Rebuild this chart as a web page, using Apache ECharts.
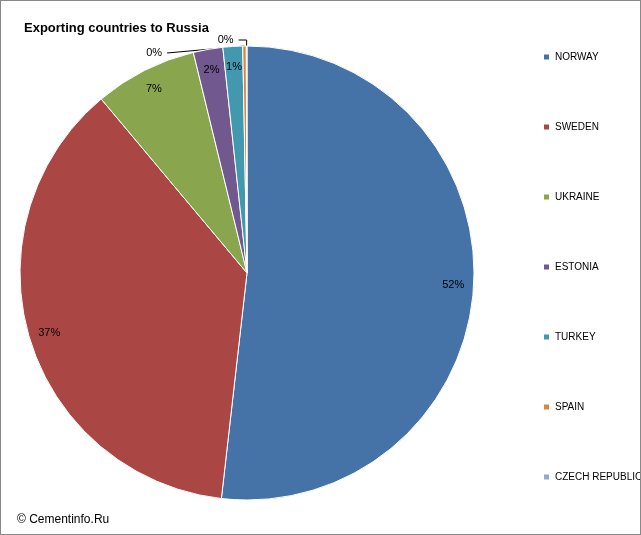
<!DOCTYPE html>
<html>
<head>
<meta charset="utf-8">
<script src="https://cdn.jsdelivr.net/npm/echarts@6/dist/echarts.min.js"></script>
<style>
  html, body { margin: 0; padding: 0; background: #fff; }
  #chart { width: 639px; height: 533px; border: 1px solid #888; }
</style>
</head>
<body>
<div id="chart"></div>
<script>
var countries = ['NORWAY', 'SWEDEN', 'UKRAINE', 'ESTONIA', 'TURKEY', 'SPAIN', 'CZECH REPUBLIC'];
var shares = [51.8, 37.1, 7.3, 2.1, 1.4, 0.25, 0.05];
var colors = ['#4572A7', '#AA4643', '#89A54E', '#71588F', '#4198AF', '#DB843D', '#93A9CF'];

var pieData = [];
var ringData = [];
for (var i = 0; i < countries.length; i++) {
    var inner = i < 5;
    pieData.push({
        name: countries[i],
        value: shares[i],
        label: { show: !inner },
        labelLine: { show: !inner }
    });
    ringData.push({
        name: countries[i],
        value: shares[i],
        label: { show: inner }
    });
}

var chart = echarts.init(document.getElementById('chart'));
chart.setOption({
    color: colors,
    animation: false,
    title: {
        text: 'Exporting countries to Russia',
        left: 18, top: 16,
        textStyle: { fontFamily: 'Liberation Sans', fontSize: 13, fontWeight: 'bold', color: '#000' }
    },
    graphic: [{
        type: 'text', left: 16, top: 513,
        style: { text: '© Cementinfo.Ru', font: '12px "Liberation Sans"', fill: '#000' }
    }],
    legend: {
        orient: 'vertical',
        left: 536, top: 46,
        itemWidth: 7, itemHeight: 7,
        itemGap: 60,
        icon: 'rect',
        textStyle: { fontFamily: 'Liberation Sans', fontSize: 10, color: '#000' },
        data: countries
    },
    series: [{
        type: 'pie',
        center: [246, 272],
        radius: 227,
        startAngle: 90,
        clockwise: true,
        avoidLabelOverlap: true,
        itemStyle: { borderColor: '#fff', borderWidth: 1 },
        label: {
            position: 'outside',
            formatter: function (p) { return Math.round(p.value) + '%'; },
            fontFamily: 'Liberation Sans', fontSize: 11, color: '#000'
        },
        labelLine: { length: 6, length2: 8, lineStyle: { color: '#000', width: 1 } },
        data: pieData
    }, {
        type: 'pie',
        center: [246, 272],
        radius: [180, 227],
        startAngle: 90,
        clockwise: true,
        silent: true,
        itemStyle: { color: 'rgba(0,0,0,0)' },
        label: {
            position: 'inside',
            formatter: function (p) { return Math.round(p.value) + '%'; },
            fontFamily: 'Liberation Sans', fontSize: 11, color: '#000'
        },
        data: ringData
    }]
});
</script>
</body>
</html>
